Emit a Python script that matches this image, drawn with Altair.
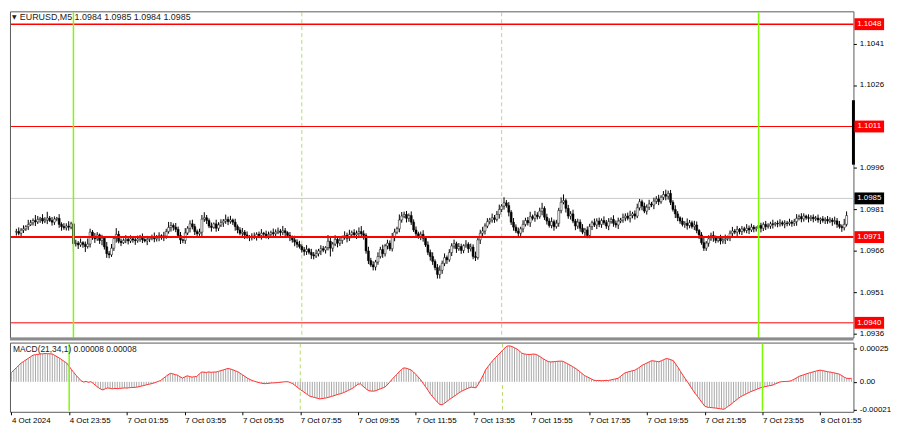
import altair as alt
import pandas as pd

# ---------------- data ----------------
# closes per M5 bar, in pips above 1.0900 (bar 0 = 4 Oct 21:55)
closes = [
    73.0, 72.4, 73.5, 74.0, 74.8, 75.5, 76.2, 77.0, 76.5, 77.4, 77.8, 76.8, 77.2, 77.9, 77.0, 76.4, 77.5, 77.8, 75.6, 74.8, 74.4, 75.0, 74.6, 75.8, 68.6,
    68.8, 68.2, 69.0, 68.4, 67.6, 68.5, 72.8, 71.0, 70.4, 71.8, 69.8, 70.6, 67.5, 65.0, 64.6, 67.0, 70.5, 72.0, 69.5, 69.0, 69.8, 70.2, 69.6, 70.4, 70.0,
    69.7, 70.3, 70.8, 70.1, 69.6, 70.2, 70.6, 70.9, 70.4, 71.0, 71.5, 70.8, 71.4, 73.0, 74.5, 75.2, 74.6, 73.8, 71.6, 70.0, 69.8, 72.5, 74.2, 75.8, 74.8,
    73.0, 72.2, 72.8, 77.5, 78.0, 77.0, 75.0, 74.5, 75.8, 74.2, 75.4, 76.2, 76.8, 77.4, 76.6, 77.2, 76.4, 74.8, 73.6, 72.4, 72.8, 71.8, 71.2, 70.8, 71.4,
    71.0, 72.0, 71.6, 72.4, 72.1, 71.5, 72.0, 72.6, 72.2, 72.8, 73.2, 72.7, 73.3, 72.6, 71.6, 70.8, 70.0, 69.2, 68.4, 67.6, 66.4, 65.8, 66.6, 65.5, 64.6,
    64.2, 65.0, 66.0, 66.8, 66.3, 67.2, 69.5, 67.0, 68.5, 70.2, 68.8, 69.8, 70.8, 71.6, 70.6, 71.9, 72.6, 71.8, 72.4, 73.0, 72.2, 71.6, 66.0, 62.5, 61.0,
    60.2, 62.0, 64.0, 66.5, 65.0, 67.8, 68.8, 66.8, 71.0, 72.8, 74.0, 77.2, 78.6, 79.2, 77.8, 78.8, 76.4, 73.6, 72.2, 71.4, 72.0, 70.6, 68.2, 65.5, 64.0,
    62.2, 60.0, 57.5, 59.0, 61.5, 63.6, 62.8, 65.4, 67.8, 68.6, 66.8, 67.6, 66.2, 67.9, 68.4, 66.8, 67.4, 64.0, 63.6, 70.0, 72.4, 73.2, 75.0, 76.6, 77.2,
    78.0, 77.4, 79.2, 81.0, 82.2, 83.4, 82.4, 80.0, 76.4, 74.6, 73.2, 72.4, 74.0, 75.6, 77.0, 76.2, 78.4, 77.8, 79.0, 78.4, 80.4, 81.4, 78.2, 76.8, 75.2,
    76.6, 74.8, 76.0, 80.6, 83.6, 84.2, 81.4, 78.6, 79.4, 76.8, 75.0, 76.4, 74.2, 72.8, 73.6, 71.6, 74.8, 76.2, 75.4, 76.8, 75.6, 77.0, 76.2, 75.0, 76.6,
    77.4, 76.0, 75.4, 76.8, 77.2, 78.0, 78.6, 77.8, 78.8, 79.4, 78.6, 81.6, 83.8, 82.2, 80.4, 81.8, 83.0, 82.6, 84.0, 84.8, 83.8, 85.4, 86.4, 85.8, 86.8,
    83.6, 81.0, 79.4, 78.0, 76.8, 75.6, 76.0, 75.2, 76.2, 74.8, 75.4, 73.4, 71.8, 69.0, 67.0, 68.8, 70.4, 71.6, 70.8, 69.8, 70.6, 69.6, 70.0, 70.4, 70.8,
    72.4, 73.2, 72.8, 73.8, 73.0, 74.0, 73.4, 74.2, 73.6, 74.6, 74.0, 74.4, 75.2, 74.2, 75.6, 74.8, 75.0, 75.8, 75.6, 76.0, 75.8, 76.2, 75.7, 76.1, 75.9,
    76.4, 76.0, 76.6, 77.8, 78.4, 77.6, 78.6, 78.0, 77.8, 78.2, 77.6, 77.9, 77.2, 77.6, 77.0, 77.4, 76.8, 77.2, 76.6, 76.9, 75.6, 74.8, 74.4, 75.6, 78.8,
]
first_open = 72.8

# upper / lower wicks beyond the body, in quarter pips
wick_up = [
    4, 6, 3, 5, 2, 7, 4, 3, 8, 5, 2, 6, 4, 9, 3, 5, 4, 2, 6, 3, 5, 4, 7, 3, 4,
    5, 3, 6, 2, 4, 8, 5, 3, 6, 4, 2, 5, 3, 7, 4, 6, 3, 9, 5, 4, 3, 6, 2, 5, 4,
    3, 5, 4, 6, 2, 5, 3, 4, 7, 3, 5, 2, 6, 4, 8, 5, 3, 6, 4, 5, 2, 7, 3, 5, 6,
    4, 3, 5, 6, 8, 4, 3, 5, 2, 6, 4, 5, 3, 7, 4, 6, 2, 5, 3, 4, 6, 3, 5, 2, 4,
    5, 3, 4, 6, 2, 5, 4, 3, 6, 4, 5, 3, 7, 4, 2, 5, 3, 6, 4, 5, 3, 4, 6, 2, 5,
    4, 6, 3, 5, 4, 2, 9, 5, 3, 6, 4, 5, 3, 6, 4, 7, 3, 5, 4, 6, 8, 5, 3, 6, 4,
    5, 3, 6, 4, 7, 3, 5, 4, 6, 5, 3, 8, 6, 4, 5, 3, 6, 4, 5, 3, 4, 6, 3, 5, 4,
    6, 3, 5, 7, 4, 6, 3, 5, 4, 6, 3, 5, 4, 2, 6, 3, 5, 4, 7, 3, 5, 6, 4, 5, 3,
    6, 4, 5, 7, 3, 8, 4, 5, 3, 6, 4, 5, 3, 6, 4, 5, 7, 3, 6, 4, 5, 8, 3, 5, 4,
    6, 3, 5, 4, 7, 9, 3, 5, 4, 6, 3, 5, 4, 6, 3, 5, 4, 3, 6, 4, 5, 3, 6, 4, 5,
    3, 6, 4, 5, 3, 6, 4, 5, 7, 3, 5, 6, 4, 3, 5, 4, 6, 3, 5, 4, 6, 3, 5, 7, 4,
    5, 3, 6, 4, 2, 5, 3, 7, 4, 3, 6, 5, 2, 4, 7, 3, 5, 4, 6, 3, 2, 5, 4, 6, 3,
    4, 6, 3, 5, 2, 4, 3, 6, 4, 5, 3, 2, 6, 4, 3, 5, 4, 3, 6, 2, 4, 5, 3, 4, 3,
    5, 3, 4, 6, 3, 5, 4, 2, 5, 3, 4, 3, 5, 2, 4, 3, 5, 4, 3, 6, 4, 5, 3, 8, 6,
]
wick_dn = [
    5, 3, 6, 4, 3, 5, 2, 4, 6, 3, 5, 4, 3, 6, 2, 5, 4, 3, 5, 6, 3, 4, 5, 3, 12,
    4, 6, 3, 5, 8, 3, 5, 4, 6, 3, 5, 7, 4, 6, 5, 3, 4, 6, 3, 5, 2, 4, 5, 3, 4,
    6, 3, 4, 5, 2, 6, 4, 3, 5, 4, 6, 3, 5, 4, 3, 6, 5, 4, 3, 6, 4, 5, 3, 6, 4,
    5, 4, 3, 6, 4, 5, 3, 6, 2, 5, 4, 3, 6, 4, 5, 3, 4, 6, 5, 3, 4, 6, 3, 5, 4,
    3, 5, 4, 6, 3, 4, 5, 3, 6, 4, 3, 5, 4, 6, 3, 5, 4, 6, 5, 3, 4, 6, 5, 3, 6,
    5, 3, 4, 6, 3, 5, 4, 12, 5, 3, 6, 4, 5, 3, 6, 4, 5, 3, 6, 4, 5, 6, 4, 5, 3,
    5, 5, 4, 3, 6, 4, 5, 3, 4, 6, 3, 5, 4, 3, 6, 5, 4, 3, 5, 4, 6, 5, 3, 4, 6,
    5, 4, 6, 6, 5, 4, 6, 3, 5, 4, 6, 3, 5, 4, 3, 6, 4, 4, 5, 3, 6, 4, 5, 3, 4,
    4, 5, 3, 6, 4, 5, 3, 6, 4, 5, 3, 6, 4, 5, 3, 4, 6, 3, 5, 4, 3, 6, 4, 5, 3,
    4, 6, 3, 5, 4, 3, 6, 4, 5, 3, 6, 4, 5, 3, 6, 4, 4, 5, 3, 6, 4, 5, 3, 4, 6,
    3, 5, 4, 6, 3, 4, 5, 3, 6, 4, 5, 3, 4, 6, 3, 5, 4, 3, 6, 4, 5, 3, 4, 6, 5,
    4, 3, 6, 5, 4, 3, 5, 6, 4, 3, 5, 4, 6, 3, 4, 4, 5, 3, 6, 4, 3, 5, 4, 6, 3,
    5, 4, 3, 6, 4, 5, 3, 4, 6, 3, 5, 4, 3, 6, 4, 5, 3, 4, 6, 3, 5, 4, 3, 6, 4,
    3, 5, 4, 6, 3, 5, 4, 3, 6, 4, 5, 3, 4, 6, 3, 5, 4, 3, 6, 4, 5, 3, 6, 4, 3,
]

# MACD(21,34,1) per bar, in units of 0.00001
macd_vals = [
    6.9, 8.7, 10.5, 12.3, 14.0, 15.2, 16.4, 17.6, 18.8, 20.0, 20.3, 20.6, 20.8, 21.0, 21.2, 21.1, 21.0, 20.8, 19.8, 18.7, 17.7, 16.4, 15.2, 14.0, 11.6,
    9.0, 6.8, 4.6, 2.6, 0.8, -0.2, 0.3, -0.4, 0.1, -1.2, -2.8, -4.2, -5.4, -6.1, -5.2, -4.6, -4.9, -5.3, -5.0, -5.1, -4.9, -4.8, -4.6, -4.7, -4.4,
    -4.3, -4.2, -4.0, -3.7, -3.2, -2.8, -2.3, -1.9, -1.5, -1.0, -0.4, 0.3, 1.0, 2.4, 3.8, 5.2, 6.3, 6.0, 5.4, 5.0, 3.8, 2.8, 3.6, 4.5, 4.0,
    3.5, 3.8, 4.0, 5.8, 7.3, 7.2, 7.0, 7.4, 7.1, 7.3, 7.3, 7.8, 8.4, 8.9, 9.5, 10.0, 9.6, 9.0, 8.2, 7.6, 6.4, 5.2, 4.0, 2.8, 1.8,
    1.0, 0.4, -0.2, -0.7, -1.1, -1.4, -1.3, -1.1, -0.9, -0.8, -0.7, -0.5, -0.3, -0.1, 0.1, 0.0, -0.7, -1.6, -3.0, -4.4, -5.8, -7.0, -8.3, -9.6, -10.8,
    -11.3, -11.8, -12.3, -12.8, -12.6, -12.3, -12.0, -11.5, -11.0, -10.4, -9.8, -9.3, -8.8, -8.1, -7.3, -6.4, -5.6, -4.5, -3.2, -1.8, -1.6, -3.2, -4.8, -6.2, -6.9,
    -7.0, -6.9, -6.2, -5.5, -4.8, -4.1, -2.6, -0.6, 1.6, 3.5, 5.4, 7.4, 9.2, 10.4, 10.2, 9.6, 8.9, 7.4, 5.6, 3.6, 1.6, -1.0, -3.6, -6.2, -9.0,
    -11.2, -13.3, -15.4, -17.0, -17.2, -16.0, -14.6, -13.2, -12.0, -10.8, -9.5, -8.2, -7.1, -6.2, -5.4, -4.6, -4.0, -4.3, -4.5, -1.7, 1.6, 5.0, 9.0, 11.4, 13.8,
    16.0, 18.0, 19.8, 21.6, 23.6, 25.4, 26.8, 26.9, 26.4, 25.5, 24.6, 23.2, 21.5, 20.9, 20.6, 20.5, 20.6, 20.8, 20.5, 19.6, 18.4, 17.2, 16.1, 15.2, 14.9,
    15.0, 15.2, 15.4, 15.5, 15.4, 14.5, 13.6, 12.6, 11.5, 10.5, 9.2, 7.8, 6.3, 4.8, 3.9, 3.0, 2.0, 1.2, 0.9, 1.0, 0.8, 0.9, 1.1, 1.0, 1.4,
    1.8, 2.2, 2.6, 4.0, 5.5, 6.8, 7.3, 7.8, 8.3, 8.7, 9.8, 11.0, 12.4, 13.2, 14.1, 15.0, 15.8, 15.6, 15.3, 15.0, 15.8, 16.6, 17.4, 17.2, 16.5,
    15.8, 13.2, 10.6, 7.6, 4.8, 2.2, -0.4, -3.2, -6.0, -8.6, -10.9, -13.4, -15.8, -18.2, -19.0, -19.2, -19.4, -19.6, -19.8, -20.1, -20.4, -20.6, -19.4, -18.1, -16.8,
    -15.3, -13.9, -12.4, -11.1, -10.2, -9.3, -8.4, -7.5, -6.8, -6.1, -5.3, -4.6, -4.1, -3.7, -3.3, -2.9, -2.6, -1.9, -1.1, -0.3, 0.1, 0.2, 0.3, 0.4, 0.9,
    1.8, 2.8, 3.9, 4.6, 5.2, 5.8, 6.4, 6.9, 7.4, 7.9, 8.4, 8.7, 8.4, 8.0, 7.6, 7.3, 7.0, 6.6, 6.2, 5.7, 4.6, 3.4, 2.6, 2.5, 2.6,
]

red_levels = [1.1048, 1.1011, 1.0971, 1.0940]
current_price = [1.0985]
green_bars = [24, 312]
dashed_bars = [120, 204]
side_bar = [1.09972, 1.10205]
price_ticks = [1.1041, 1.1026, 1.0996, 1.0981, 1.0966, 1.0951, 1.0936]
macd_ticks = [0.00025, 0.0, -0.00021]
time_tick_bars = [0, 24, 48, 72, 96, 120, 144, 168, 192, 216, 240, 264, 288, 312, 336]
time_tick_labels = ["4 Oct 2024", "4 Oct 23:55", "7 Oct 01:55", "7 Oct 03:55", "7 Oct 05:55",
                    "7 Oct 07:55", "7 Oct 09:55", "7 Oct 11:55", "7 Oct 13:55", "7 Oct 15:55",
                    "7 Oct 17:55", "7 Oct 19:55", "7 Oct 21:55", "7 Oct 23:55", "8 Oct 01:55"]
header_text = ["EURUSD,M5  1.0984 1.0985 1.0984 1.0985"]
macd_text = ["MACD(21,34,1) 0.00008 0.00008"]

# ---------------- layout / style ----------------
W, H1, H2 = 853, 330, 70
X_DOM = [-0.6, 349.8]
P_DOM = [1.093464, 1.105265]
M_DOM = [-0.000225, 0.000294]
FONT = "Liberation Sans"
WICK_UNIT = 0.000025
level_width = {1.1048: 1.6, 1.1011: 1.0, 1.0971: 2.0, 1.0940: 1.0}
BOX = "M-1,-0.4H1V0.4H-1Z"

# ---------------- tables ----------------
n = len(closes)
opens = [first_open] + closes[:-1]
rec = []
for i in range(n):
    o = 1.09 + opens[i] / 1e4
    c = 1.09 + closes[i] / 1e4
    up = wick_up[i] if i < len(wick_up) else 0
    dn = wick_dn[i] if i < len(wick_dn) else 0
    rec.append(dict(i=i, lo_b=min(o, c), hi_b=max(o, c),
                    high=max(o, c) + up * WICK_UNIT, low=min(o, c) - dn * WICK_UNIT,
                    dir="up" if c >= o else "down"))
candles = pd.DataFrame(rec)
macd_df = pd.DataFrame({"i": list(range(len(macd_vals))), "m": [v / 1e5 for v in macd_vals]})
green_df = pd.DataFrame({"b": green_bars})
dashed_df = pd.DataFrame({"b": dashed_bars})
side_df = pd.DataFrame({"lo": [side_bar[0]], "hi": [side_bar[1]]})
cur_df = pd.DataFrame({"p": current_price, "lab": [f"{v:.4f}" for v in current_price]})
lvl_df = pd.DataFrame({"p": red_levels, "lab": [f"{v:.4f}" for v in red_levels]})
one = pd.DataFrame({"a": [0]})

xs = alt.Scale(domain=X_DOM, nice=False, zero=False)
ps = alt.Scale(domain=P_DOM, nice=False, zero=False)
ms = alt.Scale(domain=M_DOM, nice=False, zero=False)

price_axis = alt.Axis(orient="right", values=price_ticks, format=".4f", tickSize=3, labelPadding=3,
                      grid=False, domain=False, title=None, labelOverlap=False, labelFlush=False,
                      labelBound=False)
lab_js = "[" + ",".join("'" + s + "'" for s in time_tick_labels) + "]"
ticks_js = "[" + ",".join(str(b) for b in time_tick_bars) + "]"
time_axis = alt.Axis(values=time_tick_bars, labelExpr=f"{lab_js}[indexof({ticks_js}, datum.value)]",
                     labelAlign="left", tickSize=3, labelPadding=2, grid=False, domain=False,
                     title=None, labelOverlap=False, labelFlush=False, labelBound=False)
macd_axis = alt.Axis(orient="right", values=macd_ticks,
                     labelExpr="datum.value == 0 ? '0.00' : (datum.value < 0 ? '-' + format(-datum.value, '.5f') : format(datum.value, '.5f'))",
                     tickSize=3, labelPadding=3, grid=False, domain=False, title=None,
                     labelOverlap=False, labelFlush=False, labelBound=False)


def XP(f):
    return alt.X(f, type="quantitative", scale=xs, axis=None)


def PY(f):
    return alt.Y(f, type="quantitative", scale=ps, axis=price_axis)


def XM(f):
    return alt.X(f, type="quantitative", scale=xs, axis=time_axis)


def MY(f):
    return alt.Y(f, type="quantitative", scale=ms, axis=macd_axis)


# ---------------- price panel ----------------
top_layers = []
top_layers.append(alt.Chart(cur_df).mark_rule(color="#c8c8c8", strokeWidth=1)
                  .encode(y=PY("p"), x=alt.value(1), x2=alt.value(W)))
top_layers.append(alt.Chart(dashed_df).mark_rule(color="#9acd32", strokeWidth=1, strokeDash=[4, 3], opacity=0.7)
                  .encode(x=XP("b"), y=alt.value(1), y2=alt.value(H1)))
top_layers.append(alt.Chart(candles).mark_rule(color="black", strokeWidth=1)
                  .encode(x=XP("i"), y=PY("low"), y2="high"))
top_layers.append(alt.Chart(candles).mark_bar(size=2, stroke="black", strokeWidth=0.5)
                  .encode(x=XP("i"), y=PY("lo_b"), y2="hi_b",
                          fill=alt.Fill("dir:N", scale=alt.Scale(domain=["up", "down"], range=["white", "black"]),
                                        legend=None)))
for lv in red_levels:
    top_layers.append(alt.Chart(pd.DataFrame({"p": [lv]}))
                      .mark_rule(color="#ff0000", strokeWidth=level_width.get(lv, 1.0))
                      .encode(y=PY("p"), x=alt.value(1), x2=alt.value(W)))
top_layers.append(alt.Chart(green_df).mark_rule(color="#7cfc00", strokeWidth=1.5)
                  .encode(x=XP("b"), y=alt.value(1), y2=alt.value(H1)))
top_layers.append(alt.Chart(side_df).mark_rule(color="black", strokeWidth=3)
                  .encode(x=alt.value(W), y=PY("lo"), y2="hi"))
top_layers.append(alt.Chart(one).mark_rect(color="#8c8c8c")
                  .encode(x=alt.value(0), x2=alt.value(W), y=alt.value(H1), y2=alt.value(H1 + 3)))
top_layers.append(alt.Chart(lvl_df).mark_point(shape=BOX, size=900, filled=True, opacity=1, color="#ff0000")
                  .encode(x=alt.value(W + 16), y=PY("p")))
top_layers.append(alt.Chart(cur_df).mark_point(shape=BOX, size=900, filled=True, opacity=1, color="#000000")
                  .encode(x=alt.value(W + 16), y=PY("p")))
top_layers.append(alt.Chart(pd.concat([lvl_df, cur_df])).mark_text(color="white", fontSize=8, font=FONT,
                                                                   align="center", baseline="middle")
                  .encode(x=alt.value(W + 16), y=PY("p"), text="lab:N"))
top_layers.append(alt.Chart(pd.DataFrame({"t": ["\u25bc"]})).mark_text(fontSize=6, font="DejaVu Sans", color="#202020",
                                                                       align="left", baseline="middle")
                  .encode(x=alt.value(2), y=alt.value(6), text="t:N"))
top_layers.append(alt.Chart(pd.DataFrame({"t": header_text})).mark_text(fontSize=9, font=FONT, color="#202020",
                                                                        align="left", baseline="middle")
                  .encode(x=alt.value(10), y=alt.value(6), text="t:N"))
top = alt.layer(*top_layers).properties(width=W, height=H1)

# ---------------- MACD panel ----------------
bot_layers = []
bot_layers.append(alt.Chart(dashed_df).mark_rule(color="#9acd32", strokeWidth=1, strokeDash=[4, 3], opacity=0.7)
                  .encode(x=XM("b"), y=alt.value(1), y2=alt.value(H2 - 1)))
bot_layers.append(alt.Chart(macd_df).mark_rule(color="#a8a8a8", strokeWidth=1)
                  .encode(x=XM("i"), y=MY("m"), y2=alt.datum(0)))
bot_layers.append(alt.Chart(macd_df).mark_line(color="#ff3030", strokeWidth=1)
                  .encode(x=XM("i"), y=MY("m")))
bot_layers.append(alt.Chart(green_df).mark_rule(color="#7cfc00", strokeWidth=1.5)
                  .encode(x=XM("b"), y=alt.value(1), y2=alt.value(H2 - 1)))
bot_layers.append(alt.Chart(pd.DataFrame({"t": macd_text})).mark_text(fontSize=8.5, font=FONT, color="#202020",
                                                                      align="left", baseline="middle")
                  .encode(x=alt.value(3), y=alt.value(7), text="t:N"))
bottom = alt.layer(*bot_layers).properties(width=W, height=H2)

chart = (alt.vconcat(top, bottom, spacing=0)
         .properties(padding=0, background="white")
         .configure_view(stroke="#5a5a5a", strokeWidth=1)
         .configure_axis(labelFont=FONT, labelFontSize=8, labelColor="#000000", tickColor="#000000"))

chart.save("out.html", embed_options={"renderer": "svg", "actions": False})
